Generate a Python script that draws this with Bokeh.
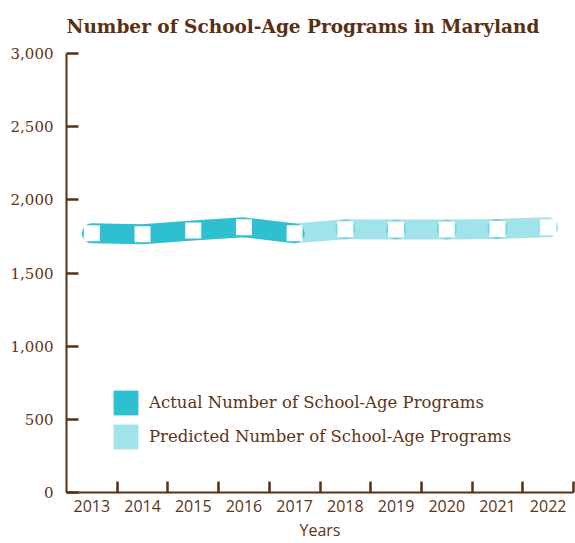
from bokeh.plotting import figure
from bokeh.models import Range1d, FixedTicker, Legend, LegendItem
from bokeh.embed import file_html
from bokeh.resources import INLINE

# ---- data ----
years = ["2013", "2014", "2015", "2016", "2017", "2018", "2019", "2020", "2021", "2022"]
actual_years = ["2013", "2014", "2015", "2016", "2017"]
actual_values = [1771, 1765, 1790, 1812, 1771]
predicted_years = ["2017", "2018", "2019", "2020", "2021", "2022"]
predicted_values = [1771, 1799, 1797, 1797, 1801, 1812]
y_ticks = [0, 500, 1000, 1500, 2000, 2500, 3000]
y_tick_labels = ["0", "500", "1,000", "1,500", "2,000", "2,500", "3,000"]
series_names = ["Actual Number of School-Age Programs", "Predicted Number of School-Age Programs"]
title_text = "Number of School-Age Programs in Maryland"
x_title = "Years"

# ---- style ----
BROWN = "#5c2f10"
TEXT = "#5f3216"
ACTUAL = "#2ec0d0"
PRED_ALPHA = 0.45
SERIF = "DejaVu Serif"
SANS = "Open Sans"
NAN = float("nan")

xa = [years.index(y) for y in actual_years]
xp = [years.index(y) for y in predicted_years]

p = figure(width=575, height=543, output_backend="svg", toolbar_location=None,
           x_range=Range1d(-0.5, len(years) - 0.5), y_range=Range1d(y_ticks[0], y_ticks[-1]),
           min_border_left=66, min_border_right=2, min_border_top=52, min_border_bottom=51)
p.outline_line_color = None
p.grid.visible = False
p.background_fill_color = "white"
p.border_fill_color = "white"

# title
p.title.text = title_text
p.title.text_font = SERIF
p.title.text_font_style = "bold"
p.title.text_font_size = "18.5px"
p.title.text_color = BROWN
p.title.align = "left"
p.title.standoff = 30
p.title.vertical_align = "top"

# predicted band (semi-transparent segments)
seg_xs = [[xp[i], xp[i + 1]] for i in range(len(xp) - 1)]
seg_ys = [[predicted_values[i], predicted_values[i + 1]] for i in range(len(xp) - 1)]
p.multi_line(xs=seg_xs, ys=seg_ys, line_color=ACTUAL, line_alpha=PRED_ALPHA,
             line_width=20, line_cap="round", line_join="round")

# actual band
p.line(xa, actual_values, line_color=ACTUAL, line_width=20, line_cap="round", line_join="round")

# markers
all_x = xa + xp[1:]
all_y = actual_values + predicted_values[1:]
p.scatter(all_x, all_y, marker="square", size=16, fill_color="white", line_color=None)

# legend (area swatches, no visible data)
r_act = p.quad(left=[NAN], right=[NAN], top=[NAN], bottom=[NAN], fill_color=ACTUAL, line_color=None)
r_pre = p.quad(left=[NAN], right=[NAN], top=[NAN], bottom=[NAN], fill_color=ACTUAL,
               fill_alpha=PRED_ALPHA, line_color=None)
legend = Legend(items=[LegendItem(label=series_names[0], renderers=[r_act]),
                       LegendItem(label=series_names[1], renderers=[r_pre])],
                location=(44, 40), orientation="vertical",
                glyph_width=31, glyph_height=31, spacing=3, padding=0, margin=0,
                label_standoff=8, label_text_font=SERIF, label_text_font_size="16.5px",
                label_text_color=TEXT, border_line_color=None, background_fill_alpha=0)
p.add_layout(legend, "center")

# x axis
xax = p.xaxis[0]
xax.ticker = FixedTicker(ticks=list(range(len(years))), minor_ticks=[i + 0.5 for i in range(len(years))])
xax.major_label_overrides = {i: y for i, y in enumerate(years)}
xax.major_tick_in = 0
xax.major_tick_out = 0
xax.minor_tick_in = 11
xax.minor_tick_out = 0
xax.minor_tick_line_color = BROWN
xax.minor_tick_line_width = 2.5
xax.axis_line_color = BROWN
xax.axis_line_width = 2
xax.major_label_text_font = SANS
xax.major_label_text_font_size = "16px"
xax.major_label_text_color = TEXT
xax.major_label_standoff = 7
xax.axis_label = x_title
xax.axis_label_text_font = SANS
xax.axis_label_text_font_style = "normal"
xax.axis_label_text_font_size = "16px"
xax.axis_label_text_color = TEXT
xax.axis_label_standoff = 4

# y axis
yax = p.yaxis[0]
yax.ticker = FixedTicker(ticks=y_ticks, minor_ticks=[])
yax.major_label_overrides = {t: l for t, l in zip(y_ticks, y_tick_labels)}
yax.major_tick_in = 12
yax.major_tick_out = 0
yax.major_tick_line_color = BROWN
yax.major_tick_line_width = 2.5
yax.axis_line_color = BROWN
yax.axis_line_width = 2
yax.major_label_text_font = SERIF
yax.major_label_text_font_size = "15px"
yax.major_label_text_color = TEXT
yax.major_label_standoff = 13

open("out.html", "w").write(file_html(p, INLINE))
